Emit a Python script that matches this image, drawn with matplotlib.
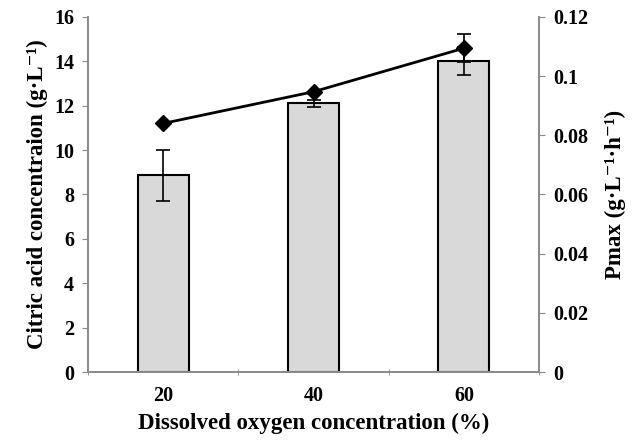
import matplotlib
matplotlib.use('Agg')
import matplotlib.pyplot as plt
import numpy as np

# Data
categories = ['20', '40', '60']
citric_acid = [8.86, 12.1, 14.0]
citric_err = [1.16, 0.15, 0.64]
pmax = [0.0840, 0.0947, 0.1094]
pmax_err = [0.0, 0.0, 0.0048]

plt.rcParams['font.family'] = ['Liberation Serif', 'DejaVu Serif']
plt.rcParams['font.weight'] = 'bold'

axis_grey = '#898989'

fig = plt.figure(figsize=(6.38, 4.42), dpi=100)
ax = fig.add_axes([0.138, 0.158, 0.707, 0.804])
x = np.arange(len(categories))

ax.bar(x, citric_acid, width=0.34, color='#d9d9d9', edgecolor='black', linewidth=1.5, zorder=2)
ax.errorbar(x, citric_acid, yerr=citric_err, fmt='none', ecolor='black',
            elinewidth=1.2, capsize=5, capthick=1.2, zorder=3)

ax.set_xlim(-0.5, 2.5)
ax.set_ylim(0, 16)
ax.set_yticks(range(0, 17, 2))
ax.set_xticks(x)
ax.set_xticklabels(categories)
ax.set_xticks([-0.5, 0.5, 1.5, 2.5], minor=True)
ax.tick_params(axis='x', which='major', length=0, pad=10, labelsize=14.5)
ax.tick_params(axis='x', which='minor', length=5, color=axis_grey, direction='inout')
ax.tick_params(axis='y', length=4, color=axis_grey, labelsize=14.5, pad=6)
ax.spines['top'].set_visible(False)
for s in ['left', 'bottom', 'right']:
    ax.spines[s].set_color(axis_grey)
    ax.spines[s].set_linewidth(1.2)
plt.setp(ax.get_xticklabels() + ax.get_yticklabels(), fontweight='bold')

ax.set_xlabel('Dissolved oxygen concentration (%)', fontsize=16.5, fontweight='bold', labelpad=5)
ax.set_ylabel('Citric acid concentraion (g·L⁻¹)', fontsize=16.5, fontweight='bold', labelpad=4)

ax2 = ax.twinx()
ax2.plot(x, pmax, color='black', linewidth=2, marker='D', markersize=8, zorder=4)
ax2.errorbar(x, pmax, yerr=pmax_err, fmt='none', ecolor='black',
             elinewidth=1.2, capsize=5, capthick=1.2, zorder=4)
ax2.set_ylim(0, 0.12)
ax2.set_yticks([0, 0.02, 0.04, 0.06, 0.08, 0.1, 0.12])
ax2.set_yticklabels(['0', '0.02', '0.04', '0.06', '0.08', '0.1', '0.12'])
ax2.tick_params(axis='y', length=4, color=axis_grey, labelsize=14.5, pad=6)
ax2.spines['top'].set_visible(False)
for s in ['left', 'bottom', 'right']:
    ax2.spines[s].set_color(axis_grey)
    ax2.spines[s].set_linewidth(1.2)
plt.setp(ax2.get_yticklabels(), fontweight='bold')
ax2.set_ylabel('Pmax (g·L⁻¹·h⁻¹)', fontsize=16.5, fontweight='bold', labelpad=12)

fig.savefig('out.png', dpi=100)
